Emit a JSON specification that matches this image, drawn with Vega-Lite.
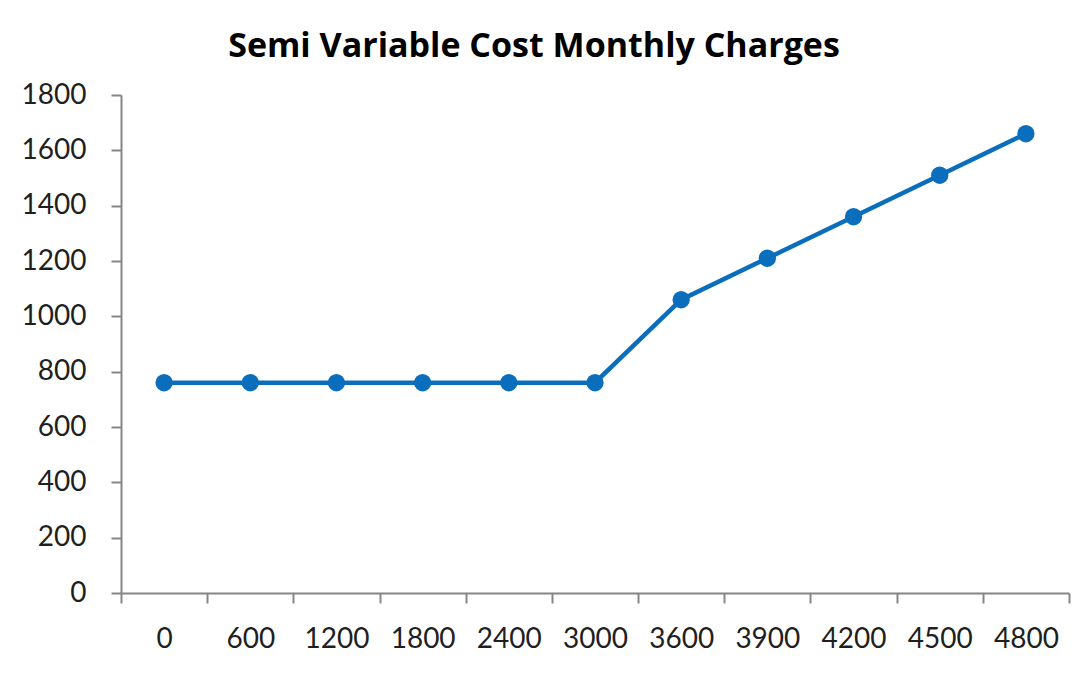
{
  "$schema": "https://vega.github.io/schema/vega-lite/v6.json",
  "width": 948,
  "height": 498,
  "autosize": {"type": "none"},
  "padding": {"left": 121, "top": 95, "right": 14, "bottom": 97},
  "background": "#ffffff",
  "title": {
    "text": "Semi Variable Cost Monthly Charges",
    "frame": "group",
    "anchor": "middle",
    "dx": -61,
    "baseline": "alphabetic",
    "offset": -10,
    "font": "Open Sans",
    "fontSize": 34,
    "fontWeight": "bold",
    "color": "#000000"
  },
  "data": {
    "values": [
      {"units": "0", "cost": 760},
      {"units": "600", "cost": 760},
      {"units": "1200", "cost": 760},
      {"units": "1800", "cost": 760},
      {"units": "2400", "cost": 760},
      {"units": "3000", "cost": 760},
      {"units": "3600", "cost": 1060},
      {"units": "3900", "cost": 1210},
      {"units": "4200", "cost": 1360},
      {"units": "4500", "cost": 1510},
      {"units": "4800", "cost": 1660}
    ]
  },
  "encoding": {
    "x": {
      "field": "units",
      "type": "nominal",
      "sort": null,
      "scale": {"type": "band", "paddingInner": 0, "paddingOuter": 0},
      "axis": {
        "title": null,
        "labelAngle": 0,
        "tickBand": "extent",
        "tickSize": 10,
        "labelPadding": 22,
        "labelFont": "Lato",
        "labelFontSize": 28,
        "labelColor": "#1f1f1f",
        "domainColor": "#868686",
        "domainWidth": 2,
        "tickColor": "#868686",
        "tickWidth": 2,
        "grid": false
      }
    },
    "y": {
      "field": "cost",
      "type": "quantitative",
      "scale": {"domain": [0, 1800], "nice": false},
      "axis": {
        "title": null,
        "format": "d",
        "values": [0, 200, 400, 600, 800, 1000, 1200, 1400, 1600, 1800],
        "tickSize": 10,
        "labelPadding": 25,
        "labelFont": "Lato",
        "labelFontSize": 28,
        "labelColor": "#1f1f1f",
        "domainColor": "#868686",
        "domainWidth": 2,
        "tickColor": "#868686",
        "tickWidth": 2,
        "grid": false
      }
    }
  },
  "layer": [
    {"mark": {"type": "line", "color": "#0a6ebd", "strokeWidth": 4.5}},
    {"mark": {"type": "point", "filled": true, "opacity": 1, "color": "#0a6ebd", "size": 300}}
  ],
  "config": {"view": {"stroke": null}}
}
